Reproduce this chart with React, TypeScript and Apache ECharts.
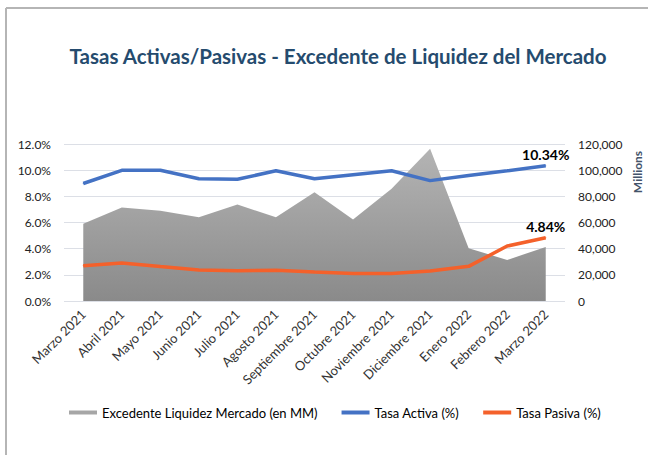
import React, { useEffect, useRef } from "react";
import * as echarts from "echarts";

const categories = [
  "Marzo 2021", "Abril 2021", "Mayo 2021", "Junio 2021", "Julio 2021", "Agosto 2021",
  "Septiembre 2021", "Octubre 2021", "Noviembre 2021", "Diciembre 2021", "Enero 2022",
  "Febrero 2022", "Marzo 2022",
];
const excedente = [59000, 71500, 69000, 64000, 73700, 64000, 83200, 62300, 85800, 116400, 40300, 31400, 41300];
const tasaActiva = [8.98, 9.99, 9.99, 9.35, 9.3, 9.95, 9.35, 9.65, 9.95, 9.2, 9.6, 9.95, 10.34];
const tasaPasiva = [2.7, 2.91, 2.63, 2.37, 2.32, 2.35, 2.22, 2.11, 2.11, 2.3, 2.65, 4.2, 4.84];

const FONT = "Lato";

export default function App() {
  const ref = useRef<HTMLDivElement>(null);
  useEffect(() => {
    if (!ref.current) return;
    const chart = echarts.init(ref.current, undefined, { renderer: "svg" });
    const withLastLabel = (arr: number[]) =>
      arr.map((v, i) =>
        i === arr.length - 1
          ? {
              value: v,
              label: {
                show: true,
                position: "top",
                distance: 4,
                formatter: v.toFixed(2) + "%",
                fontFamily: FONT,
                fontWeight: "bold",
                fontSize: 14,
                color: "#000",
              },
            }
          : v
      );

    chart.setOption({
      animation: false,
      backgroundColor: "#fff",
      title: {
        text: "Tasas Activas/Pasivas - Excedente de Liquidez del Mercado",
        left: 333,
        top: 40,
        textAlign: "center",
        textStyle: { fontFamily: FONT, fontWeight: "bold", fontSize: 20.5, color: "#254b6e" },
      },
      graphic: [
        { type: "line", shape: { x1: 6, y1: 8, x2: 648, y2: 8 }, style: { stroke: "#b5b5b5", lineWidth: 2 } },
        { type: "line", shape: { x1: 6, y1: 8, x2: 6, y2: 455 }, style: { stroke: "#b5b5b5", lineWidth: 2 } },
        {
          type: "text",
          x: 637,
          y: 172,
          rotation: Math.PI / 2,
          style: {
            text: "Millions",
            fontFamily: FONT,
            fontWeight: "bold",
            fontSize: 12,
            fill: "#44546a",
            align: "center",
            verticalAlign: "middle",
          },
        },
      ],
      legend: {
        left: 64,
        top: 401,
        itemWidth: 28,
        itemHeight: 4,
        itemGap: 24,
        icon: "rect",
        textStyle: { fontFamily: FONT, fontSize: 13, color: "#000" },
        data: [
          { name: "Excedente Liquidez Mercado (en MM)", icon: "rect" },
          { name: "Tasa Activa (%)", icon: "rect" },
          { name: "Tasa Pasiva (%)", icon: "rect" },
        ],
      },
      grid: { left: 64, right: 83, top: 144, bottom: 154 },
      xAxis: {
        type: "category",
        data: categories,
        boundaryGap: true,
        axisLine: { show: false },
        axisTick: { show: false },
        axisLabel: {
          rotate: 45,
          interval: 0,
          margin: 11,
          fontFamily: FONT,
          fontSize: 13,
          color: "#333",
        },
      },
      yAxis: [
        {
          type: "value",
          min: 0,
          max: 12,
          interval: 2,
          axisLine: { show: false },
          axisTick: { show: false },
          splitLine: { lineStyle: { color: "#dcdfe6", width: 1 } },
          axisLabel: {
            margin: 13,
            fontFamily: FONT,
            fontSize: 12,
            color: "#222",
            formatter: (v: number) => v.toFixed(1) + "%",
          },
        },
        {
          type: "value",
          min: 0,
          max: 120000,
          interval: 20000,
          position: "right",
          axisLine: { show: false },
          axisTick: { show: false },
          splitLine: { show: false },
          axisLabel: {
            margin: 13,
            fontFamily: FONT,
            fontSize: 12,
            color: "#222",
            formatter: (v: number) => v.toLocaleString("en-US"),
          },
        },
      ],
      series: [
        {
          name: "Excedente Liquidez Mercado (en MM)",
          type: "line",
          yAxisIndex: 1,
          data: excedente,
          symbol: "none",
          itemStyle: { color: "#a6a6a6" },
          lineStyle: { width: 0 },
          areaStyle: {
            opacity: 1,
            color: new echarts.graphic.LinearGradient(0, 0, 0, 1, [
              { offset: 0, color: "#b4b4b4" },
              { offset: 1, color: "#8a8a8a" },
            ]),
          },
          z: 1,
        },
        {
          name: "Tasa Activa (%)",
          type: "line",
          data: withLastLabel(tasaActiva),
          symbol: "circle",
          symbolSize: 1,
          showSymbol: true,
          itemStyle: { color: "#4472c4" },
          lineStyle: { width: 3.5, color: "#4472c4" },
          z: 3,
        },
        {
          name: "Tasa Pasiva (%)",
          type: "line",
          data: withLastLabel(tasaPasiva),
          symbol: "circle",
          symbolSize: 1,
          showSymbol: true,
          itemStyle: { color: "#f4612b" },
          lineStyle: { width: 3.5, color: "#f4612b" },
          z: 3,
        },
      ],
    });
    return () => chart.dispose();
  }, []);
  return (
    <div
      ref={ref}
      style={{ position: "fixed", left: 0, top: 0, width: 648, height: 455, background: "#fff" }}
    />
  );
}
